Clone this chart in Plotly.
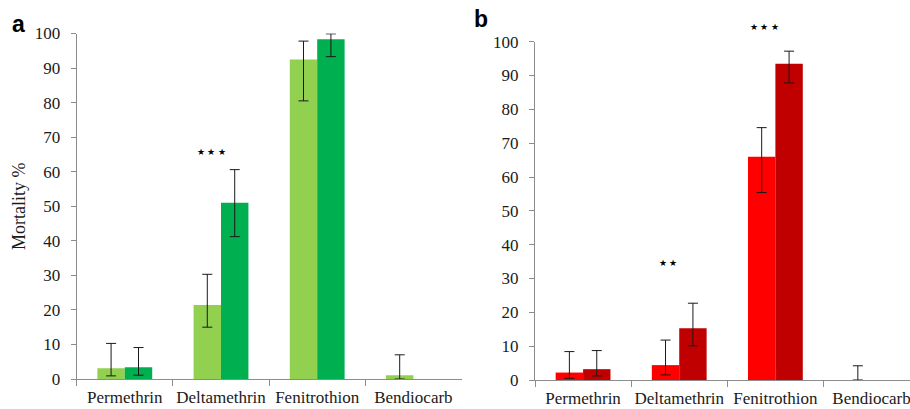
import plotly.graph_objects as go

W, H = 910, 409

categories = ["Permethrin", "Deltamethrin", "Fenitrothion", "Bendiocarb"]

# Panel a (green)
a_light = [3.1, 21.4, 92.5, 1.1]
a_light_hi = [10.3, 30.3, 97.8, 7.0]
a_light_lo = [0.9, 15.0, 80.5, 0.0]
a_dark = [3.4, 51.0, 98.3, 0.0]
a_dark_hi = [9.1, 60.6, 99.9, None]
a_dark_lo = [1.1, 41.2, 93.3, None]

# Panel b (red)
b_light = [2.2, 4.4, 66.0, 0.0]
b_light_hi = [8.4, 11.8, 74.6, 4.2]
b_light_lo = [0.5, 1.5, 55.4, 0.0]
b_dark = [3.2, 15.3, 93.5, 0.0]
b_dark_hi = [8.7, 22.7, 97.2, None]
b_dark_lo = [1.2, 10.1, 87.8, None]

# significance marks (category, label, height in %)
sig_a = [("Deltamethrin", "★ ★ ★", 67.8)]
sig_b = [("Deltamethrin", "★ ★", 34.7), ("Fenitrothion", "★ ★ ★", 106.4)]

y_ticks = list(range(0, 101, 10))
Y_MAX = 100

SERIF = "Liberation Serif"
AXIS_COL = "#8c8c8c"
TXT = "#1a1a1a"


def err(vals, hi, lo):
    plus = [None if h is None else h - v for v, h in zip(vals, hi)]
    minus = [None if l is None else v - l for v, l in zip(vals, lo)]
    return dict(type="data", symmetric=False, array=plus, arrayminus=minus,
                color="#1a1a1a", thickness=1, width=5, visible=True)


def shown(vals, hi):
    # points without an error bar and zero mortality draw nothing
    return [None if (h is None and v == 0) else v for v, h in zip(vals, hi)]


fig = go.Figure()

def add_pair(vals1, hi1, lo1, col1, vals2, hi2, lo2, col2, xa, ya):
    fig.add_trace(go.Bar(x=categories, y=shown(vals1, hi1), marker_color=col1,
                         marker_line_width=0, error_y=err(vals1, hi1, lo1),
                         xaxis=xa, yaxis=ya, showlegend=False, cliponaxis=False,
                         hoverinfo="skip"))
    fig.add_trace(go.Bar(x=categories, y=shown(vals2, hi2), marker_color=col2,
                         marker_line_width=0, error_y=err(vals2, hi2, lo2),
                         xaxis=xa, yaxis=ya, showlegend=False, cliponaxis=False,
                         hoverinfo="skip"))

add_pair(a_light, a_light_hi, a_light_lo, "#92D050",
         a_dark, a_dark_hi, a_dark_lo, "#00B050", "x", "y")
add_pair(b_light, b_light_hi, b_light_lo, "#FF0000",
         b_dark, b_dark_hi, b_dark_lo, "#C00000", "x2", "y2")

xcommon = dict(type="category", showgrid=False, zeroline=False,
               showline=True, linecolor=AXIS_COL, linewidth=1,
               ticks="outside", tickson="boundaries", ticklen=6, tickangle=0,
               automargin=False, ticklabelstandoff=3,
               tickcolor=AXIS_COL, tickfont=dict(family=SERIF, size=17, color=TXT))
ycommon = dict(range=[0, Y_MAX], tickvals=y_ticks, showgrid=False, zeroline=False,
               showline=True, linecolor=AXIS_COL, linewidth=1, automargin=False,
               ticks="outside", ticklen=5, tickcolor=AXIS_COL, ticklabelstandoff=7,
               tickfont=dict(family=SERIF, size=17, color=TXT))

fig.update_layout(
    width=W, height=H,
    margin=dict(l=0, r=0, t=0, b=0),
    paper_bgcolor="white", plot_bgcolor="white",
    font=dict(family=SERIF),
    barmode="group", bargap=0.43, bargroupgap=0,
    xaxis=dict(domain=[76.7 / W, 461.5 / W], anchor="y", range=[-0.5, 3.5], **xcommon),
    yaxis=dict(domain=[1 - 379 / H, 1 - 33.5 / H], anchor="x",
               title=dict(text="Mortality %", font=dict(family=SERIF, size=18, color=TXT),
                          standoff=4), **ycommon),
    xaxis2=dict(domain=[535 / W, 1.0], anchor="y2", range=[-0.5, 3.4], **xcommon),
    yaxis2=dict(domain=[1 - 380 / H, 1 - 41.7 / H], anchor="x2", **ycommon),
)

for cat, lab, yv in sig_a:
    fig.add_annotation(x=cat, y=yv / Y_MAX, xref="x", yref="y domain", text=lab,
                       showarrow=False, xshift=-10, font=dict(size=9, color="black"))
for cat, lab, yv in sig_b:
    fig.add_annotation(x=cat, y=yv / Y_MAX, xref="x2", yref="y2 domain", text=lab,
                       showarrow=False, xshift=-11, font=dict(size=9, color="black"))

for lab, px, py in [("a", 18.5, 23.5), ("b", 481, 18.5)]:
    fig.add_annotation(x=px / W, y=1 - py / H, xref="paper", yref="paper",
                       text="<b>" + lab + "</b>", showarrow=False,
                       xanchor="center", yanchor="middle",
                       font=dict(family="Liberation Sans, Arial", size=23, color="black"))

fig.write_html("out.html", config={"displayModeBar": False, "staticPlot": True},
               post_script="document.body.style.margin='0';document.body.style.overflow='hidden';")
